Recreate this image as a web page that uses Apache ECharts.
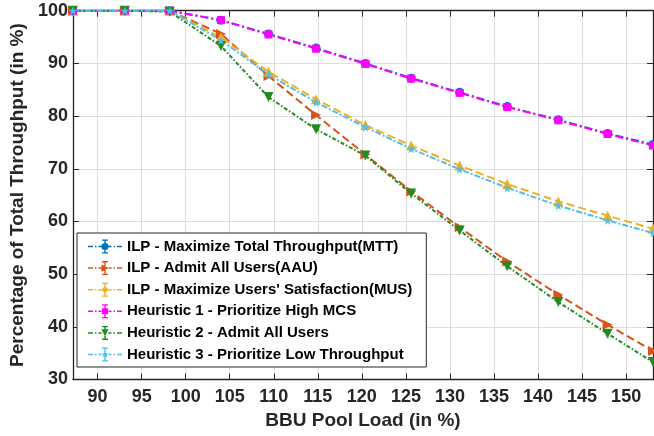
<!DOCTYPE html>
<html>
<head>
<meta charset="utf-8">
<script src="https://cdn.jsdelivr.net/npm/echarts@6/dist/echarts.min.js"></script>
<style>
html,body{margin:0;padding:0;background:#fff;}
#chart{width:654px;height:436px;}
</style>
</head>
<body>
<div id="chart"></div>
<script>
// ---- data ----
const loads = [87.2, 93.1, 98.2, 104.0, 109.4, 114.8, 120.4, 125.6, 131.1, 136.5, 142.3, 147.9, 153.05];
const ilpMTT = [100, 100, 100, 98.2, 95.6, 92.9, 90.0, 87.2, 84.5, 81.8, 79.3, 76.7, 74.6];
const ilpAAU = [100, 100, 100, 95.6, 87.6, 80.2, 72.7, 65.7, 58.9, 52.4, 46.1, 40.4, 35.4];
const ilpMUS = [100, 100, 100, 94.9, 88.4, 83.2, 78.3, 74.4, 70.6, 67.1, 63.8, 61.1, 58.6];
const heu1 = [100, 100, 100, 98.2, 95.5, 92.8, 89.9, 87.1, 84.4, 81.7, 79.2, 76.6, 74.4];
const heu2 = [100, 100, 99.8, 93.3, 83.6, 77.5, 72.5, 65.3, 58.3, 51.5, 44.7, 38.7, 33.3];
const heu3 = [100, 100, 100, 94.4, 87.9, 82.6, 77.9, 73.8, 69.9, 66.4, 63.0, 60.2, 57.8];
const seriesNames = [
  "ILP - Maximize Total Throughput(MTT)",
  "ILP - Admit All Users(AAU)",
  "ILP - Maximize Users' Satisfaction(MUS)",
  "Heuristic 1 - Prioritize High MCS",
  "Heuristic 2 - Admit All Users",
  "Heuristic 3 - Prioritize Low Throughput"
];
const yTicks = { min: 30, max: 100, step: 10 };
const xTickStep = 5;

// ---- styling ----
const FONT = "'Liberation Sans', Arial, sans-serif";
const AX = '#262626';
const colors = ['#0072BD', '#D95319', '#EDB120', '#FF00FF', '#228B22', '#4DBEEE'];
const STAR = 'path://M50 0 L61 35 L98 35 L68 57 L79 91 L50 70 L21 91 L32 57 L2 35 L39 35 Z';

function rect(x0, y0, x1, y1) {
  return 'M' + x0 + ' ' + y0 + ' H' + x1 + ' V' + y1 + ' H' + x0 + ' Z ';
}
function markerPath(type, cx, cy, r) {
  switch (type) {
    case 'circle':
      return 'M' + (cx - r) + ' ' + cy + ' A' + r + ' ' + r + ' 0 1 1 ' + (cx + r) + ' ' + cy +
             ' A' + r + ' ' + r + ' 0 1 1 ' + (cx - r) + ' ' + cy + ' Z ';
    case 'square':
      return rect(cx - r * 0.85, cy - r * 0.85, cx + r * 0.85, cy + r * 0.85);
    case 'diamond':
      return 'M' + cx + ' ' + (cy - r) + ' L' + (cx + r) + ' ' + cy + ' L' + cx + ' ' + (cy + r) + ' L' + (cx - r) + ' ' + cy + ' Z ';
    case 'triRight':
      return 'M' + (cx - r) + ' ' + (cy - r) + ' L' + (cx + r) + ' ' + cy + ' L' + (cx - r) + ' ' + (cy + r) + ' Z ';
    case 'triDown':
      return 'M' + (cx - r) + ' ' + (cy - r) + ' L' + (cx + r) + ' ' + (cy - r) + ' L' + cx + ' ' + (cy + r) + ' Z ';
    case 'star': {
      let s = '';
      for (let i = 0; i < 10; i++) {
        const a = -Math.PI / 2 + i * Math.PI / 5;
        const rr = i % 2 === 0 ? r : r * 0.45;
        s += (i === 0 ? 'M' : 'L') + (cx + rr * Math.cos(a)).toFixed(2) + ' ' + (cy + rr * Math.sin(a)).toFixed(2) + ' ';
      }
      return s + 'Z ';
    }
  }
  return '';
}
function legendIcon(type) {
  const y0 = 6.25, y1 = 7.75;
  let p = '';
  [[0, 5], [7, 8.5], [10.5, 13.5], [20.5, 23.5], [25.5, 27], [29, 34]].forEach(s => { p += rect(s[0], y0, s[1], y1); });
  p += rect(16.3, 0, 17.7, 14);
  p += rect(14, 0, 20, 1.3);
  p += rect(14, 12.7, 20, 14);
  p += markerPath(type, 17, 7, 3.6);
  return 'path://' + p;
}

const defs = [
  { data: ilpMTT, symbol: 'circle', rot: 0, size: 9, dash: [8, 3, 2, 3], icon: 'circle' },
  { data: ilpAAU, symbol: 'triangle', rot: -90, size: 10, dash: [8, 4], icon: 'triRight' },
  { data: ilpMUS, symbol: 'triangle', rot: 0, size: 10, dash: [8, 4], icon: 'diamond' },
  { data: heu1, symbol: 'rect', rot: 0, size: 8, dash: [8, 3, 2, 3], icon: 'square' },
  { data: heu2, symbol: 'triangle', rot: 180, size: 10, dash: [4, 2, 1.5, 2], icon: 'triDown' },
  { data: heu3, symbol: STAR, rot: 0, size: 9, dash: [6, 2, 2, 2], icon: 'star' }
];

const series = defs.map((d, i) => ({
  name: seriesNames[i],
  type: 'line',
  xAxisIndex: 0,
  yAxisIndex: 0,
  data: loads.map((x, k) => [x, d.data[k]]),
  symbol: d.symbol,
  symbolRotate: d.rot,
  symbolSize: d.size,
  showAllSymbol: true,
  color: colors[i],
  lineStyle: { color: colors[i], width: 2, type: d.dash },
  itemStyle: { color: colors[i] },
  emphasis: { disabled: true },
  animation: false
}));

const xMin = loads[0], xMax = loads[loads.length - 1];

function xAxisCfg(pos, labels) {
  return {
    type: 'value', position: pos, min: xMin, max: xMax, splitNumber: 13,
    axisLine: { show: true, onZero: false, lineStyle: { color: AX, width: 1.3 } },
    axisTick: { show: true, inside: true, length: 6, lineStyle: { color: AX, width: 1 } },
    axisLabel: labels ? {
      show: true, margin: 9, color: AX, fontSize: 18, fontWeight: 'bold', fontFamily: FONT,
      showMinLabel: false, showMaxLabel: false,
      formatter: v => (Math.abs(v / xTickStep - Math.round(v / xTickStep)) < 1e-6 ? String(Math.round(v)) : '')
    } : { show: false },
    splitLine: { show: labels, lineStyle: { color: '#dedede', width: 1 } },
    name: labels ? 'BBU Pool Load (in %)' : '',
    nameLocation: 'middle', nameGap: 30,
    nameTextStyle: { color: AX, fontSize: 19, fontWeight: 'bold', fontFamily: FONT }
  };
}
function yAxisCfg(pos, labels) {
  return {
    type: 'value', position: pos, min: yTicks.min, max: yTicks.max, interval: yTicks.step,
    axisLine: { show: true, onZero: false, lineStyle: { color: AX, width: 1.3 } },
    axisTick: { show: true, inside: true, length: 6, lineStyle: { color: AX, width: 1 } },
    axisLabel: labels ? { show: true, margin: 5, color: AX, fontSize: 18, fontWeight: 'bold', fontFamily: FONT } : { show: false },
    splitLine: { show: labels, lineStyle: { color: '#dedede', width: 1 } },
    name: labels ? 'Percentage of Total Throughput (in %)' : '',
    nameLocation: 'middle', nameGap: 38, nameRotate: 90,
    nameTextStyle: { color: AX, fontSize: 19, fontWeight: 'bold', fontFamily: FONT }
  };
}

const chart = echarts.init(document.getElementById('chart'), null, { renderer: 'canvas' });
chart.setOption({
  backgroundColor: '#ffffff',
  animation: false,
  grid: { left: 63.5, right: 1, top: 10.7, bottom: 56.5, containLabel: false },
  xAxis: [xAxisCfg('bottom', true), xAxisCfg('top', false)],
  yAxis: [yAxisCfg('left', true), yAxisCfg('right', false)],
  legend: {
    orient: 'vertical',
    left: 77, top: 233,
    padding: [6, 14, 5, 11],
    itemGap: 6.6,
    itemWidth: 34, itemHeight: 14,
    selectedMode: false,
    backgroundColor: '#ffffff',
    borderColor: AX, borderWidth: 1,
    textStyle: { color: '#000', fontSize: 15, fontWeight: 'bold', fontFamily: FONT, lineHeight: 14 },
    data: seriesNames.map((n, i) => ({ name: n, icon: legendIcon(defs[i].icon), itemStyle: { color: colors[i] } }))
  },
  series: series
});
</script>
</body>
</html>
